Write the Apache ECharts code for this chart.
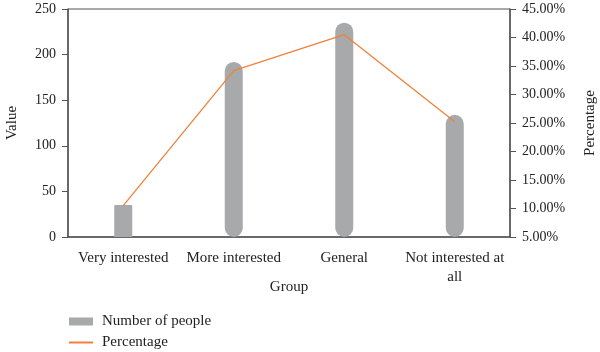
<!DOCTYPE html>
<html lang="en">

<head>
    <meta charset="UTF-8">
    <title>Group interest chart</title>
    <script src="https://cdn.jsdelivr.net/npm/echarts@6/dist/echarts.min.js"></script>
    <style>
        body {
            margin: 0;
            padding: 0;
            background: #fff;
        }

        #main {
            width: 600px;
            height: 352px;
        }
    </style>
</head>

<body>
    <div id="main"></div>

    <script>
        // data
        var groups = ['Very interested', 'More interested', 'General', 'Not interested at\nall'];
        var people = [35, 192, 235, 134];
        var percentage = [10.5, 34.2, 40.5, 25.2];

        var fontFamily = '"Liberation Serif", "DejaVu Serif", serif';
        var textColor = '#222';
        var axisColor = '#555';
        var lineColor = '#f0813a';

        var chartDom = document.getElementById('main');
        var myChart = echarts.init(chartDom);
        var option;

        option = {
            animation: false,
            textStyle: {
                fontFamily: fontFamily,
                color: textColor
            },
            grid: {
                left: 68,
                right: 90,
                top: 9,
                bottom: 115,
                outerBoundsMode: 'none',
                containLabel: false,
                show: true,
                borderColor: axisColor,
                borderWidth: 1
            },
            legend: {
                orient: 'vertical',
                left: 68,
                top: 314,
                padding: 0,
                itemGap: 6,
                itemWidth: 24,
                itemHeight: 8,
                textStyle: {
                    fontFamily: fontFamily,
                    fontSize: 15,
                    color: textColor,
                    padding: [0, 0, 0, 4]
                },
                data: [
                    { name: 'Number of people', icon: 'rect' },
                    { name: 'Percentage', itemStyle: { opacity: 0 } }
                ]
            },
            xAxis: {
                type: 'category',
                data: groups,
                name: 'Group',
                nameLocation: 'middle',
                nameGap: 43,
                nameMoveOverlap: false,
                nameTextStyle: { fontSize: 15, color: textColor },
                axisLine: { lineStyle: { color: axisColor, width: 1.5 } },
                axisTick: { alignWithLabel: true, length: 5, lineStyle: { color: axisColor } },
                axisLabel: { interval: 0, fontSize: 15, color: textColor, margin: 12, lineHeight: 19 }
            },
            yAxis: [
                {
                    type: 'value',
                    min: 0,
                    max: 250,
                    interval: 50,
                    name: 'Value',
                    nameLocation: 'middle',
                    nameRotate: 90,
                    nameGap: 48,
                    nameTextStyle: { fontSize: 15, color: textColor },
                    axisLine: { show: true, lineStyle: { color: axisColor, width: 1.5 } },
                    axisTick: { show: true, length: 6, lineStyle: { color: axisColor } },
                    axisLabel: { fontSize: 14, color: textColor, margin: 12 },
                    splitLine: { show: false }
                },
                {
                    type: 'value',
                    min: 5,
                    max: 45,
                    interval: 5,
                    position: 'right',
                    name: 'Percentage',
                    nameLocation: 'middle',
                    nameRotate: 90,
                    nameGap: 73,
                    nameTextStyle: { fontSize: 15, color: textColor },
                    axisLine: { show: true, lineStyle: { color: axisColor, width: 1.5 } },
                    axisTick: { show: true, length: 6, lineStyle: { color: axisColor } },
                    axisLabel: {
                        fontSize: 14,
                        color: textColor,
                        margin: 12,
                        formatter: function (v) {
                            return v.toFixed(2) + '%';
                        }
                    },
                    splitLine: { show: false }
                }
            ],
            series: [
                {
                    name: 'Number of people',
                    type: 'bar',
                    barWidth: 18,
                    itemStyle: { color: '#a7a9aa' },
                    data: people.map(function (v, i) {
                        // first bar is square, the others are capsules
                        return {
                            value: v,
                            itemStyle: { borderRadius: i === 0 ? [1, 1, 0, 0] : 9 }
                        };
                    })
                },
                {
                    name: 'Percentage',
                    type: 'line',
                    yAxisIndex: 1,
                    symbol: 'none',
                    lineStyle: { color: lineColor, width: 1.3 },
                    itemStyle: { color: lineColor },
                    data: percentage
                }
            ]
        };

        option && myChart.setOption(option);
    </script>
</body>

</html>
